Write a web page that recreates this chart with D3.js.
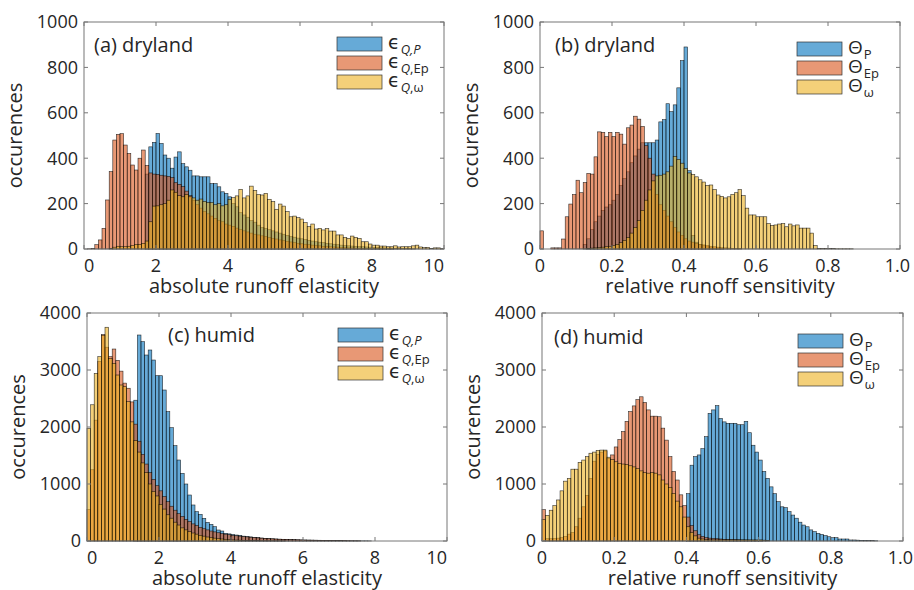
<!DOCTYPE html>
<html><head><meta charset="utf-8">
<script src="https://cdn.jsdelivr.net/npm/d3@7"></script>
<style>
body{margin:0;background:#fff}
svg{display:block}
text{font-family:'Open Sans','DejaVu Sans',sans-serif;fill:#262626}
</style>
</head><body>
<svg id="chart" width="914" height="590"></svg>
<script>
// ---------------- data (histogram counts per bin) ----------------
// panel (a) dryland, absolute runoff elasticity, bin width 0.1
const aBinWidth = 0.1;
const aP_start = 1.7;
const aP = [330,450,470,509,465,414,400,356,405,428,376,362,347,322,322,318,318,318,288,288,274,252,245,230,200,186,160,150,140,125,118,105,95,90,85,80,75,70,65,60,55,52,48,45,42,38,35,32,30,28,25,23,21,19,17,15,14,13,12,11,10,9,8,7,6,5,5,4,4,3,3,2,2,2,1];
const aEp_start = 0.1;
const aEp = [1,3,19,40,91,216,341,480,505,508,458,421,370,348,400,436,368,335,330,328,325,322,320,315,292,285,275,255,235,215,195,180,165,155,145,135,125,120,110,105,100,92,85,80,75,70,65,62,58,55,50,47,44,40,37,34,31,28,25,23,21,19,17,15,14,12,11,10,9,8,7,6,5,5,4,4,3,3,2,2,2,1,1,1,1];
const aW_start = 0.7;
const aW = [3,8,12,10,10,12,15,20,20,25,35,120,189,190,195,200,215,260,250,235,230,240,230,225,215,220,210,205,205,195,200,190,195,219,226,234,263,225,234,277,258,240,238,245,219,209,175,198,189,165,142,145,138,132,116,99,110,88,91,84,90,79,79,62,62,51,47,57,51,47,32,32,22,17,17,13,13,10,10,14,9,10,10,10,14,17,9,6,7,3,5,5,3];

// panel (b) dryland, relative runoff sensitivity, bin width 0.01
const bBinWidth = 0.01;
const bP_start = 0.12;
const bP = [20,45,85,120,145,170,185,195,215,240,280,310,340,380,410,440,468,468,468,468,480,560,570,640,605,635,710,830,890,345,60,30,20,15,10,8,5,4,3];
const bEp_start = 0.0;
const bEp = [80,0,0,5,5,5,44,142,198,240,303,248,293,333,330,406,516,514,495,514,495,514,506,462,534,546,585,572,540,455,400,330,240,195,170,145,120,95,75,60,45,35,30,25,20,18,15,12,10,8,6,5,4,3,2,2];
const bW_start = 0.13;
const bW = [3,4,5,6,8,10,12,15,20,28,38,50,70,95,125,170,215,260,300,322,325,330,340,365,408,395,378,355,335,328,318,305,295,280,282,262,238,232,225,230,240,248,262,235,180,150,150,142,142,142,112,104,106,110,112,98,110,102,106,92,92,92,70,15,3,2,2,2,2,1,1,1,1,1];

// panel (c) humid, absolute runoff elasticity, bin width 0.1
const cBinWidth = 0.1;
const cP_start = 1.3;
const cP = [2470,3614,3497,3263,3351,3175,2900,2900,2649,2269,1988,1672,1421,1187,1000,807,632,515,468,398,327,292,251,193,175,134,125,115,105,100,85,78,72,65,58,52,47,42,38,34,31,28,26,24,22,20,18,17,16,15,14,13,12,11,10,9,8,7,6,5,5,4,4,3,3,2];
const cEp_start = 0.0;
const cEp = [550,1250,2120,3150,3620,3400,3234,3368,3170,2980,2770,2680,2440,2050,1750,1520,1350,1200,1080,970,880,780,690,610,540,480,430,380,340,300,270,240,215,195,175,160,145,130,120,110,100,92,85,78,72,66,60,55,50,46,42,38,35,32,30,28,25,23,21,19,17,15,14,13,12,11,10,9,8,7,6,5,5,4,4,3];
const cW_start = 0.0;
const cW = [1975,2390,2940,3234,3610,3750,3200,3117,2912,2737,2707,2444,2090,1760,1560,1370,1200,1000,870,790,640,560,460,400,330,280,230,195,165,140,120,100,85,70,60,50,42,35,30,25,20,17,14,12,10,8,7,6,5,4,3,3,2,2,1];

// panel (d) humid, relative runoff sensitivity, bin width 0.01
const dBinWidth = 0.01;
const dP_start = 0.40;
const dP = [830,1330,1480,1510,1620,1830,2240,2300,2375,2150,2090,2065,2065,2065,2040,2040,2100,1900,1680,1560,1420,1220,1100,950,830,690,600,585,515,455,400,330,280,250,195,165,135,115,95,75,58,58,35,35,35,18,18,15,12,10,8,6,4];
const dEp_start = 0.0;
const dEp = [550,40,40,45,50,60,80,120,150,250,400,600,800,1100,1400,1520,1560,1580,1450,1510,1650,1780,1920,2100,2270,2370,2480,2530,2430,2300,2190,2190,2180,1980,1770,1480,1220,1070,810,620,420,270,180,110,80,60,50,45,40,35,30,28,25,22,20,18,16,14,12,10,8];
const dW_start = 0.0;
const dW = [380,450,540,620,720,880,1050,1100,1260,1260,1380,1420,1480,1540,1560,1590,1595,1595,1470,1430,1390,1360,1350,1340,1320,1300,1270,1230,1200,1190,1200,1190,1160,1070,1000,940,835,700,600,420,250,150,90,50,35,25,20,20,20,20,20,20,20,20,20,20,20,20,20,20,20,15,10];

// tick labels
const absTicks = [0,2,4,6,8,10];
const relTicks = [0,0.2,0.4,0.6,0.8,1.0];
const relTickLabels = ['0','0.2','0.4','0.6','0.8','1.0'];
const dryYTicks = [0,200,400,600,800,1000];
const humidYTicks = [0,1000,2000,3000,4000];

// ---------------- styles / layout ----------------
const colors = {P:'rgb(0,114,189)', Ep:'rgb(217,83,25)', W:'rgb(237,177,32)'};
const FACE_ALPHA = 0.6;

const panels = [
  {box:{l:84,r:444,t:22,b:249}, xMax:10, yMax:1000, bw:aBinWidth, xTicks:absTicks, xLabels:absTicks.map(String), abs:true, yTicks:dryYTicks,
   series:[['P',aP_start,aP],['Ep',aEp_start,aEp],['W',aW_start,aW]],
   title:'(a) dryland', titleX:94, titleY:52, xTitle:'absolute runoff elasticity', legX:337, legY:37, sym:'eps'},
  {box:{l:540,r:900,t:22,b:249}, xMax:1, yMax:1000, bw:bBinWidth, xTicks:relTicks, xLabels:relTickLabels, abs:false, yTicks:dryYTicks,
   series:[['P',bP_start,bP],['Ep',bEp_start,bEp],['W',bW_start,bW]],
   title:'(b) dryland', titleX:555, titleY:52, xTitle:'relative runoff sensitivity', legX:797, legY:42, sym:'theta'},
  {box:{l:87,r:447,t:313,b:541}, xMax:10, yMax:4000, bw:cBinWidth, xTicks:absTicks, xLabels:absTicks.map(String), abs:true, yTicks:humidYTicks,
   series:[['P',cP_start,cP],['Ep',cEp_start,cEp],['W',cW_start,cW]],
   title:'(c) humid', titleX:168, titleY:342, xTitle:'absolute runoff elasticity', legX:338, legY:328, sym:'eps'},
  {box:{l:542,r:903,t:313,b:541}, xMax:1, yMax:4000, bw:dBinWidth, xTicks:relTicks, xLabels:relTickLabels, abs:false, yTicks:humidYTicks,
   series:[['P',dP_start,dP],['Ep',dEp_start,dEp],['W',dW_start,dW]],
   title:'(d) humid', titleX:554, titleY:344, xTitle:'relative runoff sensitivity', legX:798, legY:334, sym:'theta'}
];

const legendDefs = {
  eps: [
    {main:'\u03F5', sub:[['Q,P',true]]},
    {main:'\u03F5', sub:[['Q',true],[',Ep',false]]},
    {main:'\u03F5', sub:[['Q',true],[',\u03C9',false]]}
  ],
  theta: [
    {main:'\u0398', sub:[['P',false]]},
    {main:'\u0398', sub:[['Ep',false]]},
    {main:'\u0398', sub:[['\u03C9',false]]}
  ]
};

const svg = d3.select('#chart');
svg.append('rect').attr('width',914).attr('height',590).attr('fill','#fff');

panels.forEach(p => {
  const {l,r,t,b} = p.box;
  const x = d3.scaleLinear().domain([0,p.xMax]).range([l,r]);
  const y = d3.scaleLinear().domain([0,p.yMax]).range([b,t]);
  const g = svg.append('g');

  // bars
  p.series.forEach(([key,start,vals]) => {
    const bins = vals.map((v,i) => ({x0: start + i*p.bw, x1: start + (i+1)*p.bw, v}));
    g.append('g').selectAll('rect').data(bins).join('rect')
      .attr('x', d => x(d.x0))
      .attr('width', d => x(d.x1) - x(d.x0))
      .attr('y', d => y(d.v))
      .attr('height', d => y(0) - y(d.v))
      .attr('fill', colors[key]).attr('fill-opacity', FACE_ALPHA)
      .attr('stroke', '#000').attr('stroke-opacity', 0.8).attr('stroke-width', 0.6);
  });

  // box
  g.append('rect').attr('x',l).attr('y',t).attr('width',r-l).attr('height',b-t)
    .attr('fill','none').attr('stroke','#777').attr('stroke-width',1);

  // ticks (inside, mirrored)
  const tl = 4;
  p.xTicks.forEach(v => {
    g.append('line').attr('x1',x(v)).attr('x2',x(v)).attr('y1',b).attr('y2',b-tl).attr('stroke','#777');
    g.append('line').attr('x1',x(v)).attr('x2',x(v)).attr('y1',t).attr('y2',t+tl).attr('stroke','#777');
  });
  p.yTicks.forEach(v => {
    g.append('line').attr('x1',l).attr('x2',l+tl).attr('y1',y(v)).attr('y2',y(v)).attr('stroke','#777');
    g.append('line').attr('x1',r).attr('x2',r-tl).attr('y1',y(v)).attr('y2',y(v)).attr('stroke','#777');
  });

  // x tick labels
  const nT = p.xTicks.length;
  p.xTicks.forEach((v,i) => {
    let anchor = 'middle', dx = 0;
    if (p.abs && i === 0) anchor = 'start';
    if (p.abs && i === nT-1) anchor = 'end';
    if (!p.abs && i === nT-1) { anchor = 'end'; dx = 10; }
    g.append('text').attr('x', x(v) + dx).attr('y', b + 23)
      .attr('text-anchor', anchor).attr('font-size', 18).text(p.xLabels[i]);
  });
  // y tick labels
  p.yTicks.forEach(v => {
    g.append('text').attr('x', l - 6).attr('y', y(v)).attr('dy','0.35em')
      .attr('text-anchor','end').attr('font-size',18).text(v);
  });

  // axis titles
  g.append('text').attr('x',(l+r)/2).attr('y', b + 44).attr('text-anchor','middle')
    .attr('font-size',20).text(p.xTitle);
  g.append('text').attr('transform',`translate(${l-62},${(t+b)/2}) rotate(-90)`)
    .attr('text-anchor','middle').attr('font-size',20).text('occurences');

  // panel title
  g.append('text').attr('x',p.titleX).attr('y',p.titleY).attr('font-size',20).text(p.title);

  // legend
  const keys = ['P','Ep','W'];
  legendDefs[p.sym].forEach((ent,i) => {
    const py = p.legY + i*19;
    g.append('rect').attr('x',p.legX).attr('y',py).attr('width',45).attr('height',14)
      .attr('fill',colors[keys[i]]).attr('fill-opacity',FACE_ALPHA)
      .attr('stroke','#333').attr('stroke-width',0.7);
    const tx = g.append('text').attr('x',p.legX+51).attr('y',py+12).attr('font-size',19);
    tx.append('tspan').text(ent.main);
    ent.sub.forEach(([s,it],j) => {
      const ts = tx.append('tspan').attr('font-size',13).text(s);
      if (j===0) ts.attr('dy',5).attr('dx',1);
      if (it) ts.attr('font-style','italic');
    });
  });
});
</script>
</body></html>
